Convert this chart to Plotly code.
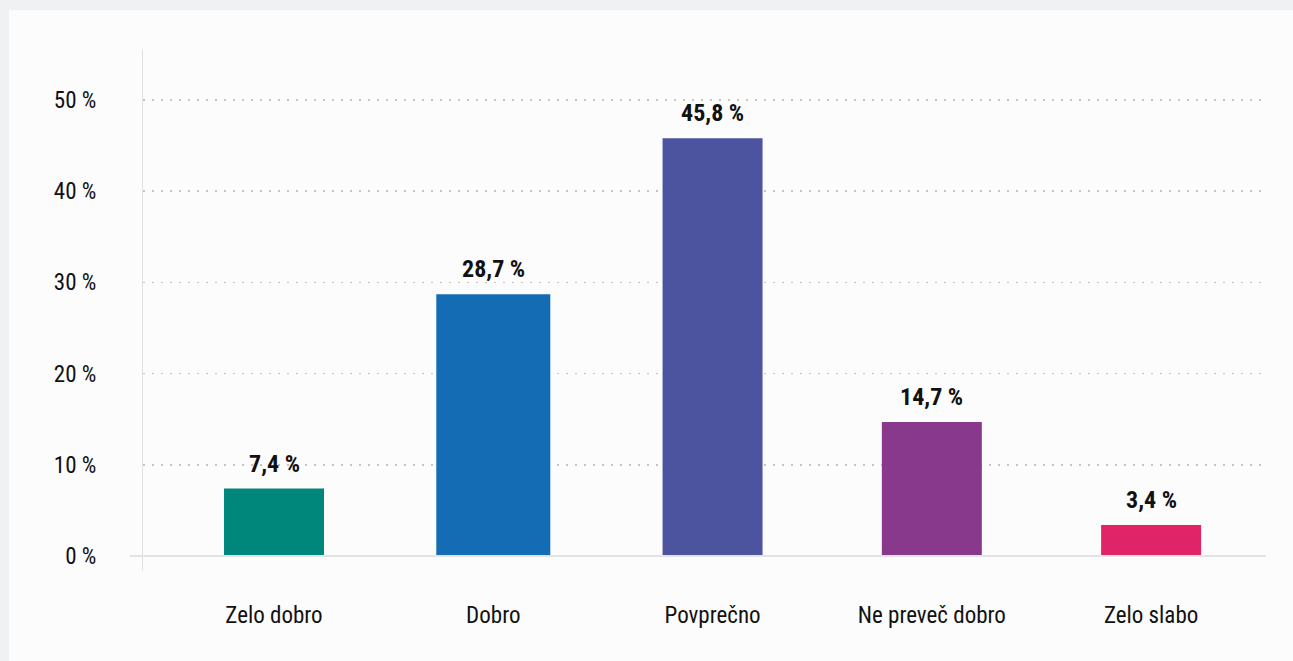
import plotly.graph_objects as go

categories = ["Zelo dobro", "Dobro", "Povprečno", "Ne preveč dobro", "Zelo slabo"]
values = [7.4, 28.7, 45.8, 14.7, 3.4]
colors = ["#00877b", "#146cb4", "#4c54a0", "#88398c", "#df2468"]
y_ticks = [0, 10, 20, 30, 40, 50]
y_ticktext = ["0 %", "10 %", "20 %", "30 %", "40 %", "50 %"]

W, H = 1293, 661
L, R, T, B = 143, 1266, 50, 570  # plot area pixel bounds
pw, ph = R - L, B - T

def px(x):
    return (x - L) / pw

def py(y):
    return (B - y) / ph

FONT = "Liberation Sans Narrow, Roboto Condensed, DejaVu Sans Condensed, sans-serif"

labels = [f"{v:.1f}".replace(".", ",") + " %" for v in values]
bar_widths = [0.456, 0.52, 0.456, 0.456, 0.456]

fig = go.Figure()
fig.add_trace(go.Bar(
    x=categories, y=values,
    marker=dict(color=colors, line=dict(width=0)),
    width=bar_widths,
    hoverinfo="skip",
))

for c, v, t in zip(categories, values, labels):
    fig.add_annotation(
        x=c, y=v, xref="x", yref="y", text=t, showarrow=False,
        yanchor="bottom", yshift=9,
        font=dict(family=FONT, size=24, color="#111111", weight="bold"),
    )

fig.update_layout(
    width=W, height=H,
    margin=dict(l=L, r=W - R, t=T, b=H - B, autoexpand=False),
    paper_bgcolor="#f0f1f3",
    plot_bgcolor="#fcfcfc",
    showlegend=False,
    font=dict(family=FONT, size=23, color="#111111"),
    xaxis=dict(
        type="category",
        range=[-0.5975, 4.524],
        showgrid=False, zeroline=False, showline=False,
        ticks="", ticklabelstandoff=29,
        tickfont=dict(family=FONT, size=23, color="#111111"),
        fixedrange=True,
    ),
    yaxis=dict(
        range=[-1.535, 55.48],
        tickmode="array", tickvals=y_ticks, ticktext=y_ticktext,
        showgrid=True, gridcolor="#c4c4c4", griddash="2px,7px", gridwidth=1.5,
        zeroline=False,
        showline=True, linecolor="#dde1e1", linewidth=1,
        ticks="", ticklabelstandoff=41,
        tickfont=dict(family=FONT, size=23, color="#111111"),
        fixedrange=True,
    ),
    shapes=[
        dict(type="rect", xref="paper", yref="paper", layer="below",
             x0=px(9), x1=px(W + 5), y0=py(10), y1=py(H + 5),
             fillcolor="#fcfcfc", line=dict(width=0)),
        dict(type="line", xref="paper", yref="y", layer="above",
             x0=px(130), x1=1.0, y0=0, y1=0,
             line=dict(color="#e2e4e4", width=2)),
    ],
)

fig.write_html(
    "out.html",
    config={"displayModeBar": False, "staticPlot": True},
    post_script="document.body.style.margin='0';document.body.style.overflow='hidden';document.body.style.background='#f0f1f3';",
)
